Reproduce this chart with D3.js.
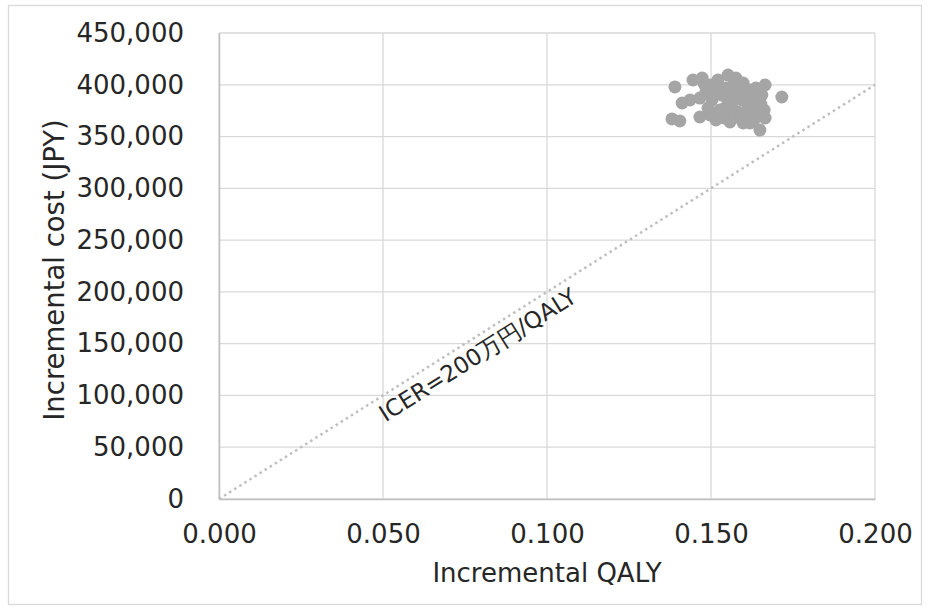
<!DOCTYPE html>
<html>
<head>
<meta charset="utf-8">
<script src="https://cdn.jsdelivr.net/npm/d3@7"></script>
<style>
  body { margin: 0; background: #fff; }
  text { font-family: "DejaVu Sans", Verdana, sans-serif; fill: #262626; }
</style>
</head>
<body>
<div class="scatter-chart"></div>
<script>
// ------------------------------------------------------
const chartWidth = 930;
const chartHeight = 611;
// incremental QALY / incremental cost (JPY), one entry per simulation
const qaly = [
    0.1390, 0.1381, 0.1405, 0.1412, 0.1436, 0.1445, 0.1473, 0.1479, 0.1485, 0.1466,
    0.1497, 0.1503, 0.1512, 0.1521, 0.1534, 0.1543, 0.1552, 0.1558, 0.1564, 0.1573,
    0.1582, 0.1598, 0.1598, 0.1604, 0.1613, 0.1619, 0.1625, 0.1634, 0.1643, 0.1649,
    0.1655, 0.1665, 0.1665, 0.1716, 0.1527, 0.1549, 0.1567, 0.1588, 0.1491, 0.1515,
    0.1540, 0.1576, 0.1619, 0.1637, 0.1595, 0.1558, 0.1509, 0.1652, 0.1607, 0.1546,
    0.1631, 0.1582, 0.1497, 0.1662, 0.1466
];
const cost = [
    397900, 367000, 365000, 382400, 385300, 404600, 406500, 400800, 393000, 368900,
    370800, 385300, 396900, 404600, 390100, 377600, 409400, 364100, 395000, 385300,
    373700, 401700, 363100, 390100, 380500, 395000, 370800, 385300, 375600, 356300,
    390100, 399800, 367900, 388200, 375600, 387200, 399800, 367900, 377600, 366000,
    367900, 406500, 363100, 396900, 385300, 375600, 390100, 381400, 373700, 396900,
    365900, 393000, 399800, 375600, 387200
];
const xTicks = [0, 0.05, 0.1, 0.15, 0.2];
const yTicks = [0, 50000, 100000, 150000, 200000, 250000, 300000, 350000, 400000, 450000];
const thresholdLine = [[0, 0], [0.2, 400000]];
const thresholdLabel = 'ICER=200万円/QALY';
// ------------------------------------------------------
const margin = { left: 219, right: 55, top: 33, bottom: 112 };
const plotW = chartWidth - margin.left - margin.right;
const plotH = chartHeight - margin.top - margin.bottom;
// ------------------------------------------------------
window.addEventListener( 'load', function () {
    let svg = d3.select( '.scatter-chart' )
        .append( 'svg' )
        .attr( 'width', chartWidth )
        .attr( 'height', chartHeight );
    // chart border
    svg.append( 'rect' )
        .attr( 'x', 8.5 ).attr( 'y', 5.5 )
        .attr( 'width', chartWidth - 17 ).attr( 'height', chartHeight - 12 )
        .attr( 'fill', 'none' )
        .attr( 'stroke', '#d9d9d9' )
        .attr( 'stroke-width', 1.3 );
    // --------------------------------------------------
    let x = d3.scaleLinear().domain( [ 0, 0.2 ] ).range( [ 0, plotW ] );
    let y = d3.scaleLinear().domain( [ 0, 450000 ] ).range( [ plotH, 0 ] );
    let g = svg.append( 'g' )
        .attr( 'transform', 'translate(' + margin.left + ',' + margin.top + ')' );
    // gridlines
    g.append( 'g' )
        .selectAll( 'line' )
        .data( yTicks )
        .enter()
        .append( 'line' )
        .attr( 'x1', 0 ).attr( 'x2', plotW )
        .attr( 'y1', d => y( d ) ).attr( 'y2', d => y( d ) )
        .attr( 'stroke', '#d9d9d9' )
        .attr( 'stroke-width', 1.3 );
    g.append( 'g' )
        .selectAll( 'line' )
        .data( xTicks )
        .enter()
        .append( 'line' )
        .attr( 'y1', 0 ).attr( 'y2', plotH )
        .attr( 'x1', d => x( d ) ).attr( 'x2', d => x( d ) )
        .attr( 'stroke', '#d9d9d9' )
        .attr( 'stroke-width', 1.3 );
    // --------------------------------------------------
    let xAxis = g.append( 'g' )
        .attr( 'transform', 'translate(0,' + plotH + ')' )
        .call( d3.axisBottom( x ).tickValues( xTicks ).tickFormat( d3.format( '.3f' ) ).tickSize( 0 ).tickPadding( 26 ) );
    xAxis.select( '.domain' ).attr( 'stroke', '#bfbfbf' ).attr( 'stroke-width', 1.5 );
    xAxis.selectAll( 'text' ).attr( 'font-size', '26px' ).attr( 'fill', '#262626' );
    let yAxis = g.append( 'g' )
        .call( d3.axisLeft( y ).tickValues( yTicks ).tickFormat( d3.format( ',' ) ).tickSize( 0 ).tickPadding( 35 ) );
    yAxis.select( '.domain' ).attr( 'stroke', '#bfbfbf' ).attr( 'stroke-width', 1.5 );
    yAxis.selectAll( 'text' ).attr( 'font-size', '26px' ).attr( 'fill', '#262626' );
    // --------------------------------------------------
    g.append( 'path' )
        .datum( thresholdLine )
        .attr( 'd', d3.line().x( d => x( d[0] ) ).y( d => y( d[1] ) ) )
        .attr( 'fill', 'none' )
        .attr( 'stroke', '#bfbfbf' )
        .attr( 'stroke-width', 2.5 )
        .attr( 'stroke-dasharray', '2.5,3.5' );
    // points
    g.append( 'g' )
        .selectAll( 'circle' )
        .data( qaly.map( ( q, i ) => [ q, cost[i] ] ) )
        .enter()
        .append( 'circle' )
        .attr( 'cx', d => x( d[0] ) )
        .attr( 'cy', d => y( d[1] ) )
        .attr( 'r', 6.5 )
        .attr( 'fill', '#a5a5a5' );
    // threshold label, rotated along the line
    let angle = Math.atan2( y( 0 ) - y( 400000 ), x( 0.2 ) - x( 0 ) ) * 180 / Math.PI;
    let lx = x( 0.0508 );
    let ly = y( 100000 ) + 27;
    g.append( 'text' )
        .attr( 'transform', 'translate(' + lx + ',' + ly + ') rotate(' + ( -angle ) + ')' )
        .attr( 'font-size', '23px' )
        .text( thresholdLabel );
    // --------------------------------------------------
    svg.append( 'text' )
        .attr( 'x', margin.left + plotW / 2 )
        .attr( 'y', 582 )
        .attr( 'text-anchor', 'middle' )
        .attr( 'font-size', '26px' )
        .text( 'Incremental QALY' );
    svg.append( 'text' )
        .attr( 'transform', 'translate(64,270) rotate(-90)' )
        .attr( 'text-anchor', 'middle' )
        .attr( 'font-size', '27.5px' )
        .text( 'Incremental cost (JPY)' );
}, false );
</script>
</body>
</html>
